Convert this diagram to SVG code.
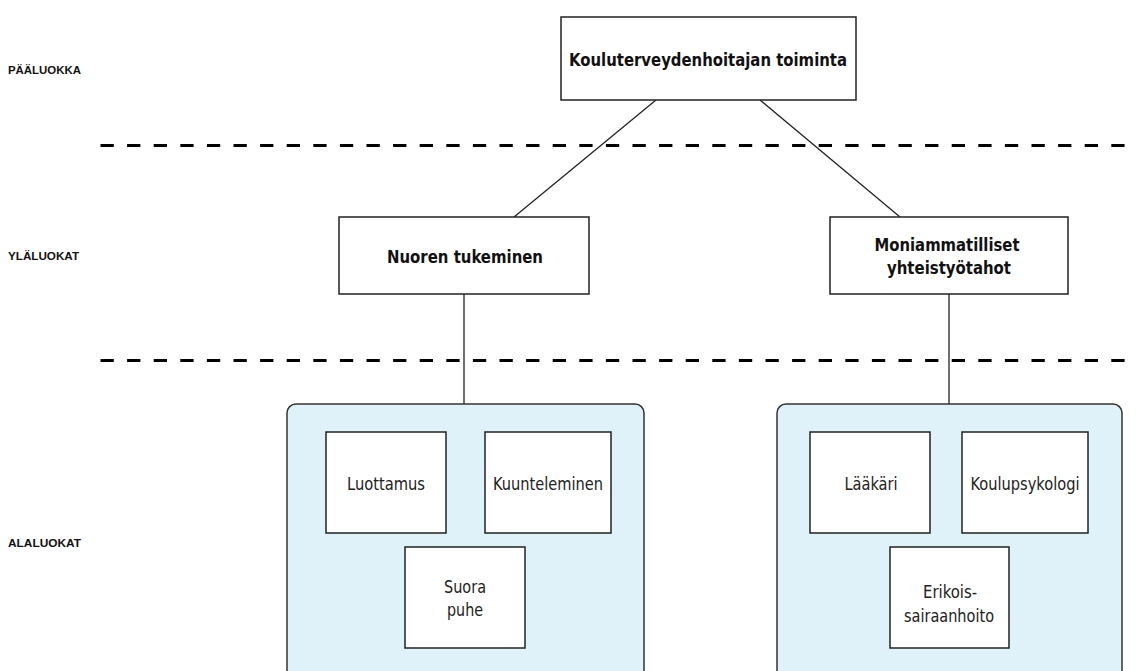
<svg xmlns="http://www.w3.org/2000/svg" width="1137" height="671" viewBox="0 0 1137 671">
<style>
.box{fill:#fff;stroke:#222;stroke-width:1.5}
.grp{fill:#dff2f9;stroke:#333;stroke-width:1.5}
.b{font-family:"DejaVu Sans Condensed","Liberation Sans",sans-serif;font-weight:bold;font-size:18px;fill:#111;text-anchor:middle}
.r{font-family:"DejaVu Sans Condensed","Liberation Sans",sans-serif;font-size:17px;fill:#222;text-anchor:middle}
.lvl{font-family:"Liberation Sans",Arial,sans-serif;font-weight:bold;font-size:11px;fill:#111}
.dash{stroke:#000;stroke-width:3;stroke-dasharray:13.3 13.3;fill:none}
.conn{stroke:#222;stroke-width:1.3;fill:none}
</style>
<rect width="1137" height="671" fill="#fff"/>
<g id="levels">
<text class="lvl" x="8" y="74" textLength="73" lengthAdjust="spacingAndGlyphs">PÄÄLUOKKA</text>
<text class="lvl" x="8" y="260" textLength="71" lengthAdjust="spacingAndGlyphs">YLÄLUOKAT</text>
<text class="lvl" x="8" y="547" textLength="73" lengthAdjust="spacingAndGlyphs">ALALUOKAT</text>
<line class="dash" x1="100.5" y1="145.5" x2="1137" y2="145.5"/>
<line class="dash" x1="100.5" y1="360.5" x2="1137" y2="360.5"/>
</g>
<g id="connectors">
<line class="conn" x1="656" y1="100" x2="514" y2="217"/>
<line class="conn" x1="760" y1="100" x2="900" y2="217"/>
<line class="conn" x1="464" y1="294" x2="464" y2="404"/>
<line class="conn" x1="949" y1="294" x2="949" y2="404"/>
</g>
<g id="paaluokka">
<rect class="box" x="561" y="17" width="295" height="83"/>
<text class="b" x="708" y="66" textLength="278" lengthAdjust="spacingAndGlyphs">Kouluterveydenhoitajan toiminta</text>
</g>
<g id="nuoren">
<rect class="box" x="339" y="217" width="250" height="77"/>
<text class="b" x="465" y="263" textLength="156" lengthAdjust="spacingAndGlyphs">Nuoren tukeminen</text>
</g>
<g id="moni">
<rect class="box" x="830" y="217" width="238" height="77"/>
<text class="b" x="947" y="251" textLength="145" lengthAdjust="spacingAndGlyphs">Moniammatilliset</text>
<text class="b" x="949" y="274" textLength="124" lengthAdjust="spacingAndGlyphs">yhteistyötahot</text>
</g>
<g id="group-left">
<rect class="grp" x="287" y="404" width="357" height="290" rx="9"/>
</g>
<g id="luottamus">
<rect class="box" x="326" y="432" width="120" height="101"/>
<text class="r" x="386" y="490" textLength="78" lengthAdjust="spacingAndGlyphs">Luottamus</text>
</g>
<g id="kuunteleminen">
<rect class="box" x="485" y="432" width="126" height="101"/>
<text class="r" x="548" y="490" textLength="110" lengthAdjust="spacingAndGlyphs">Kuunteleminen</text>
</g>
<g id="suora">
<rect class="box" x="405" y="547" width="120" height="101"/>
<text class="r" x="465" y="593" textLength="42" lengthAdjust="spacingAndGlyphs">Suora</text>
<text class="r" x="465" y="616" textLength="36" lengthAdjust="spacingAndGlyphs">puhe</text>
</g>
<g id="group-right">
<rect class="grp" x="777" y="404" width="345" height="290" rx="9"/>
</g>
<g id="laakari">
<rect class="box" x="810" y="432" width="120" height="101"/>
<text class="r" x="871" y="490" textLength="53" lengthAdjust="spacingAndGlyphs">Lääkäri</text>
</g>
<g id="koulupsykologi">
<rect class="box" x="962" y="432" width="126" height="101"/>
<text class="r" x="1025" y="490" textLength="109" lengthAdjust="spacingAndGlyphs">Koulupsykologi</text>
</g>
<g id="erikois">
<rect class="box" x="890" y="547" width="119" height="101"/>
<text class="r" x="950" y="598" textLength="54" lengthAdjust="spacingAndGlyphs">Erikois-</text>
<text class="r" x="949" y="622" textLength="90" lengthAdjust="spacingAndGlyphs">sairaanhoito</text>
</g>
</svg>
